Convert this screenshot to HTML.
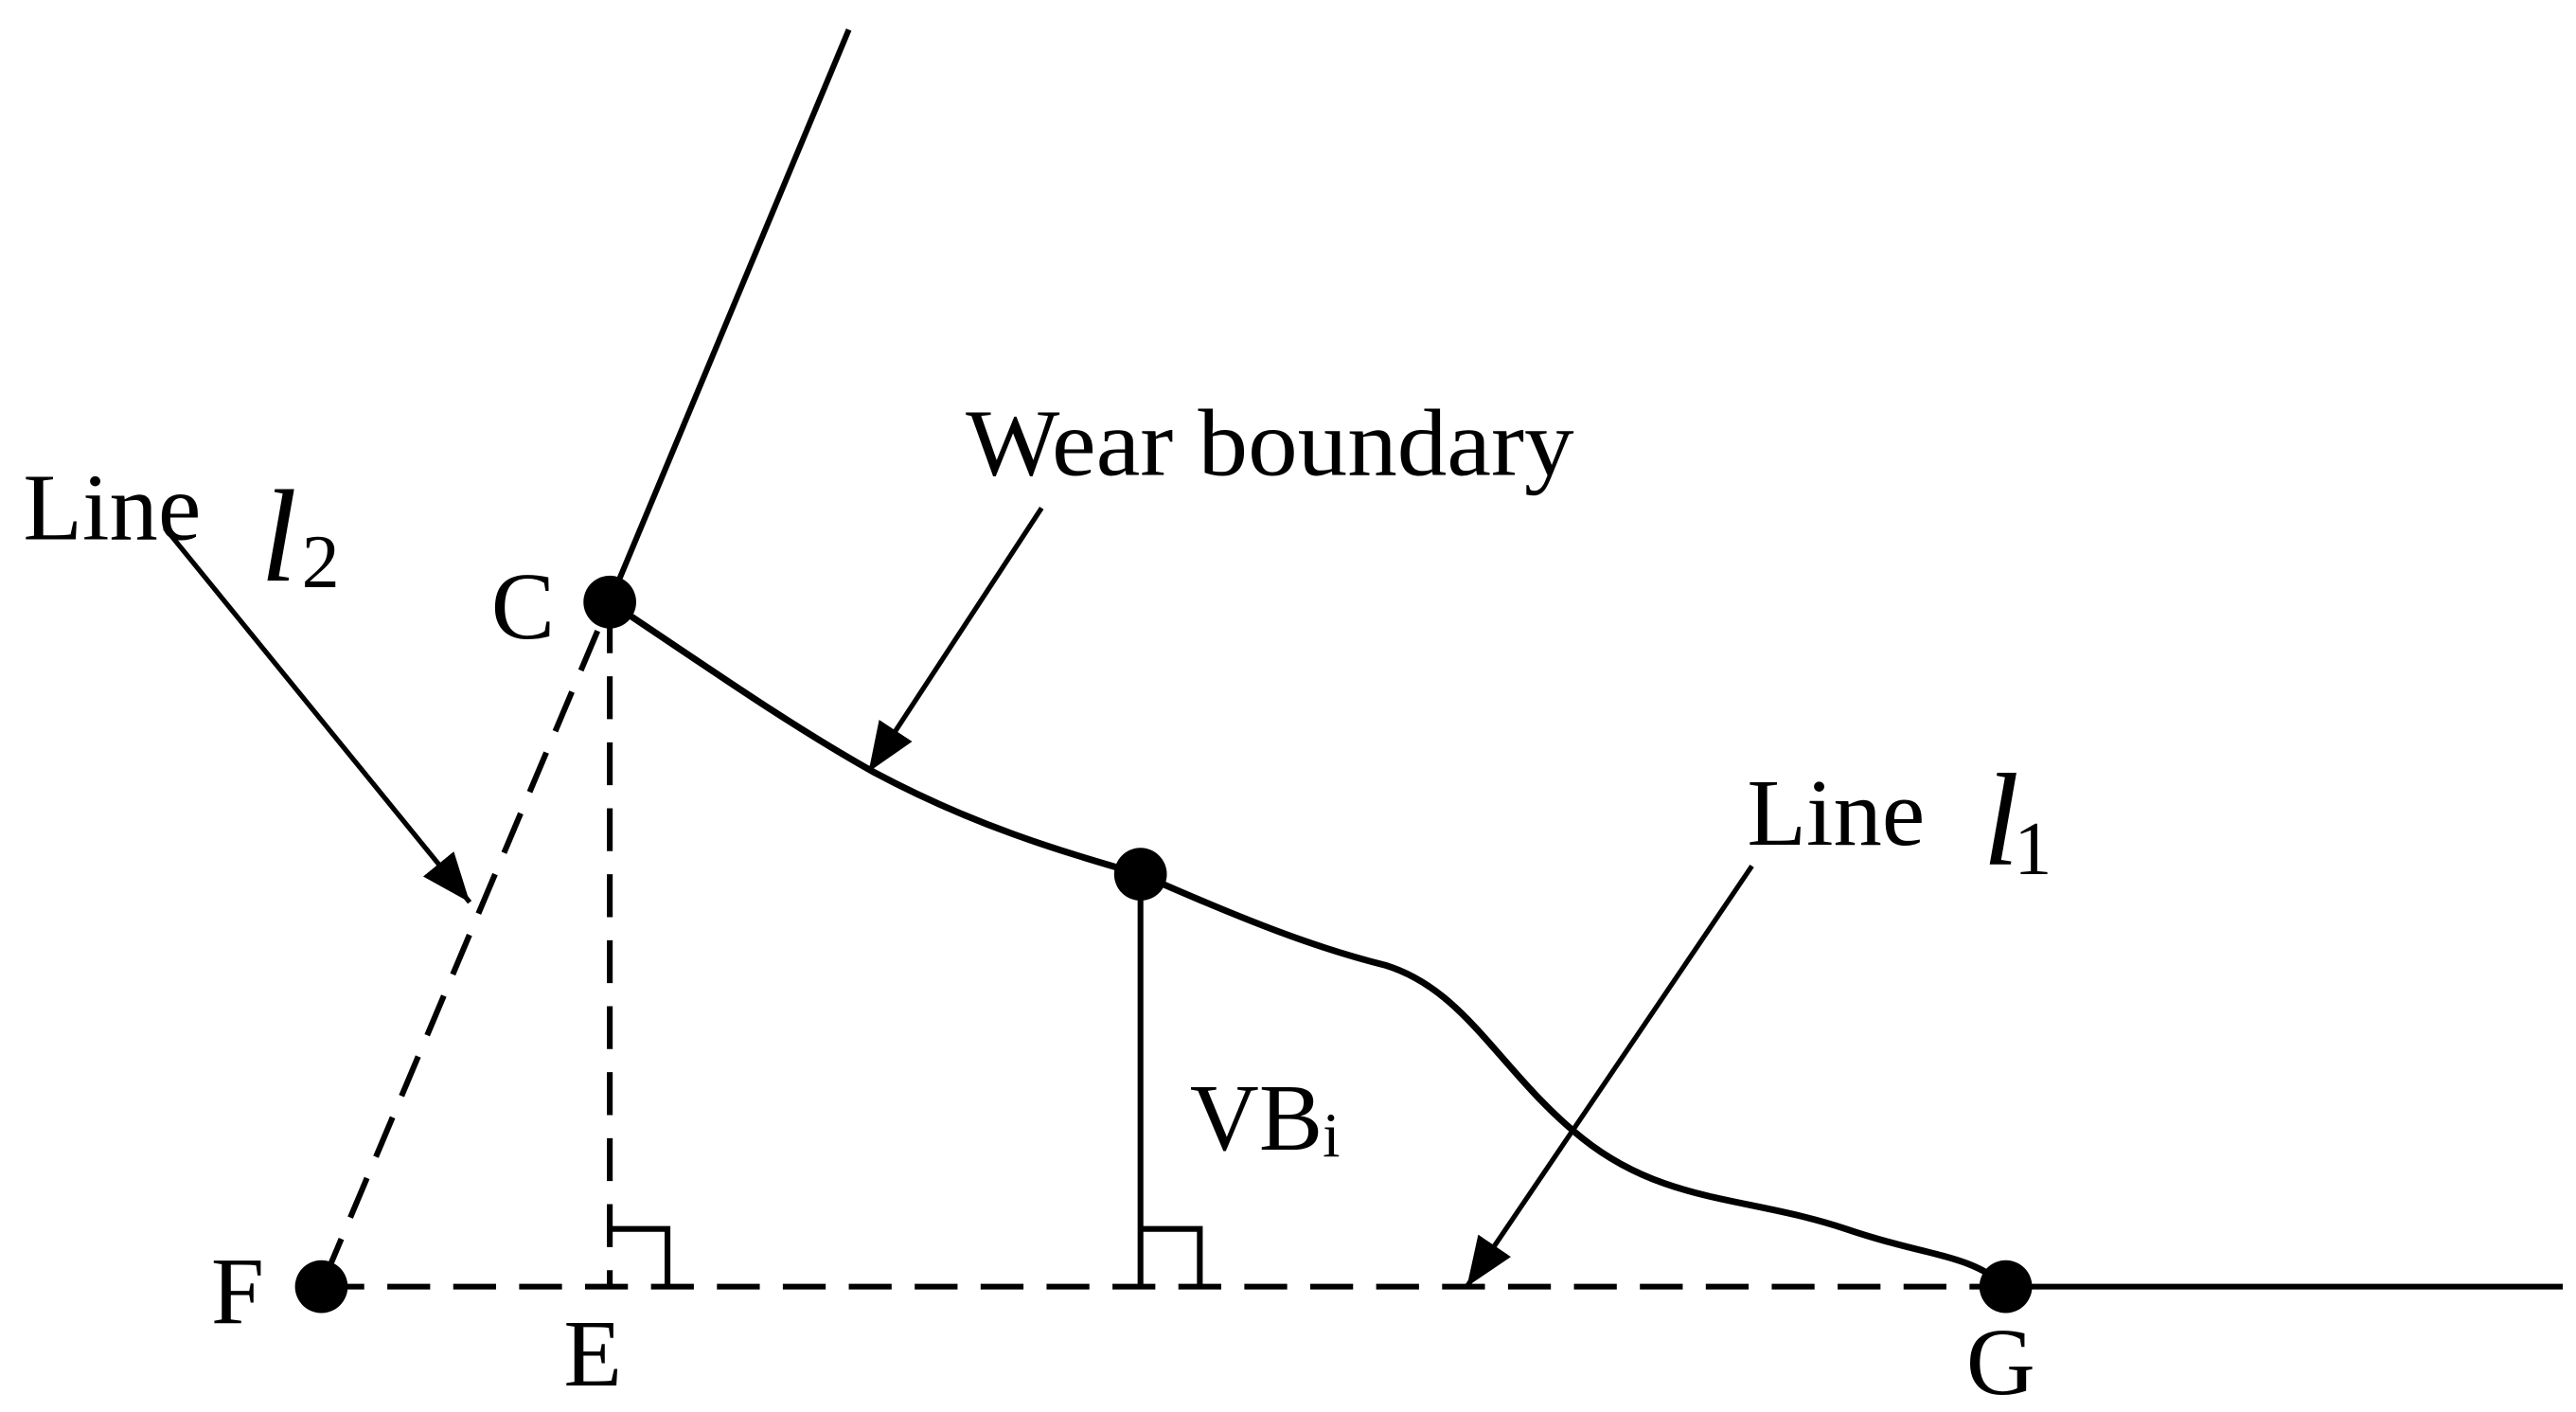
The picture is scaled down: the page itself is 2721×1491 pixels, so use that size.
<!DOCTYPE html>
<html><head><style>html,body{margin:0;padding:0;background:#fff;}svg{display:block}</style></head>
<body>
<svg width="2721" height="1491" viewBox="0 0 1563 856" preserveAspectRatio="none" xmlns="http://www.w3.org/2000/svg">
<defs>
<marker id="ah2" viewBox="0 0 10 10" refX="10" refY="5" markerWidth="30" markerHeight="30" markerUnits="userSpaceOnUse" orient="auto"><path d="M0,1 L10,5 L0,9 z" fill="#000"/></marker>
</defs>
<g stroke="#000" stroke-width="3.5" fill="none">
<line x1="515" y1="18" x2="370" y2="365"/>
<path stroke-width="4" d="M370,365 C430,405 480,440 530,468 C590,500 640,515 692,530 C760,560 800,575 840,585 C890,600 910,650 960,690 C1010,730 1060,725 1120,745 C1170,762 1195,760 1217,780"/>
<line x1="1217" y1="780" x2="1555" y2="780"/>
<line x1="692" y1="530" x2="692" y2="780"/>
<polyline points="692,745 728,745 728,780"/>
<polyline points="370,745 405,745 405,780"/>
<line x1="195" y1="780" x2="1217" y2="780" stroke-dasharray="26,14"/>
<line x1="370" y1="370" x2="370" y2="780" stroke-dasharray="26,14"/>
<line x1="197" y1="775" x2="367" y2="372" stroke-dasharray="26,14"/>
<line x1="100" y1="320" x2="285" y2="547" stroke-width="3" marker-end="url(#ah2)"/>
<line x1="632" y1="308" x2="527" y2="468" stroke-width="3" marker-end="url(#ah2)"/>
<line x1="1063" y1="525" x2="890" y2="780" stroke-width="3" marker-end="url(#ah2)"/>
</g>
<g fill="#000">
<circle cx="370" cy="365" r="16"/>
<circle cx="692" cy="530" r="16"/>
<circle cx="195" cy="780" r="16"/>
<circle cx="1217" cy="780" r="16"/>
</g>
<g font-family="Liberation Serif, serif" fill="#000" font-size="58">
<text x="14" y="327" textLength="108" lengthAdjust="spacingAndGlyphs">Line</text>
<text x="158" y="352" font-style="italic" font-size="80">l</text>
<text x="183" y="356" font-size="46">2</text>
<text x="298" y="387">C</text>
<text x="128" y="802">F</text>
<text x="342" y="840">E</text>
<text x="1193" y="845">G</text>
<text x="586" y="288" textLength="369" lengthAdjust="spacingAndGlyphs">Wear boundary</text>
<text x="1060" y="512" textLength="108" lengthAdjust="spacingAndGlyphs">Line</text>
<text x="1203" y="524" font-style="italic" font-size="80">l</text>
<text x="1222" y="530" font-size="46">1</text>
<text x="722" y="697">VB<tspan font-size="38" dy="4">i</tspan></text>
</g>
</svg>
</body></html>
